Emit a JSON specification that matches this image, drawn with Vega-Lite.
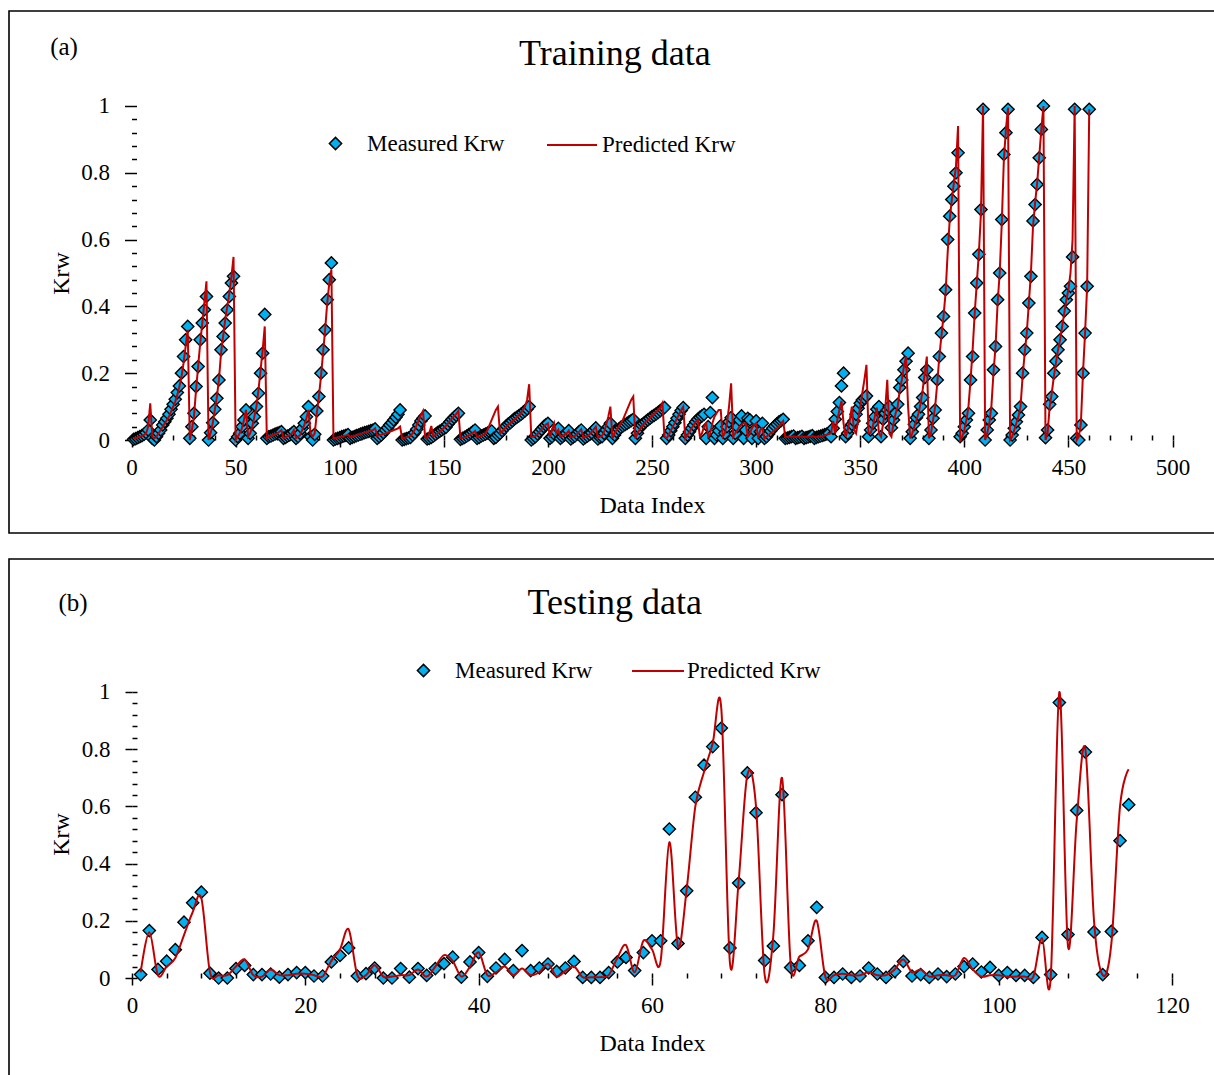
{
  "$schema": "https://vega.github.io/schema/vega-lite/v6.json",
  "padding": {"left": 8, "top": 10, "right": 0, "bottom": 0},
  "background": "white",
  "config": {
    "font": "Liberation Serif",
    "view": {"stroke": "black", "strokeWidth": 1.6},
    "axis": {"labelFont": "Liberation Serif", "titleFont": "Liberation Serif", "labelColor": "black", "titleColor": "black", "tickColor": "black", "grid": false},
    "legend": {"padding": 0, "labelFont": "Liberation Serif", "labelFontSize": 23, "labelColor": "black"}
  },
  "datasets": {
    "train": [
      {"i":1,"m":0.002,"p":0.005},{"i":2,"m":0.004,"p":0.006},{"i":3,"m":0.007,"p":0.008},{"i":4,"m":0.01,"p":0.01},{"i":5,"m":0.013,"p":0.012},
      {"i":6,"m":0.017,"p":0.015},{"i":7,"m":0.022,"p":0.02},{"i":8,"m":0.03,"p":0.04},{"i":9,"m":0.06,"p":0.11},{"i":10,"m":0.005,"p":0.01},
      {"i":11,"m":0.0,"p":0.005},{"i":12,"m":0.01,"p":0.01},{"i":13,"m":0.02,"p":0.02},{"i":14,"m":0.03,"p":0.03},{"i":15,"m":0.045,"p":0.04},
      {"i":16,"m":0.055,"p":0.05},{"i":17,"m":0.065,"p":0.06},{"i":18,"m":0.077,"p":0.07},{"i":19,"m":0.092,"p":0.085},{"i":20,"m":0.107,"p":0.1},
      {"i":21,"m":0.122,"p":0.115},{"i":22,"m":0.142,"p":0.135},{"i":23,"m":0.162,"p":0.16},{"i":24,"m":0.2,"p":0.19},{"i":25,"m":0.25,"p":0.23},
      {"i":26,"m":0.3,"p":0.28},{"i":27,"m":0.34,"p":0.33},{"i":28,"m":0.005,"p":0.0},{"i":29,"m":0.04,"p":0.03},{"i":30,"m":0.08,"p":0.07},
      {"i":31,"m":0.16,"p":0.15},{"i":32,"m":0.22,"p":0.22},{"i":33,"m":0.3,"p":0.29},{"i":34,"m":0.35,"p":0.35},{"i":35,"m":0.39,"p":0.41},
      {"i":36,"m":0.43,"p":0.475},{"i":37,"m":0.0,"p":0.0},{"i":38,"m":0.022,"p":0.02},{"i":39,"m":0.052,"p":0.05},{"i":40,"m":0.092,"p":0.09},
      {"i":41,"m":0.125,"p":0.13},{"i":42,"m":0.18,"p":0.18},{"i":43,"m":0.27,"p":0.26},{"i":44,"m":0.31,"p":0.31},{"i":45,"m":0.35,"p":0.36},
      {"i":46,"m":0.39,"p":0.4},{"i":47,"m":0.43,"p":0.44},{"i":48,"m":0.47,"p":0.49},{"i":49,"m":0.49,"p":0.548},{"i":50,"m":0.0,"p":0.0},
      {"i":51,"m":0.01,"p":0.01},{"i":52,"m":0.02,"p":0.02},{"i":53,"m":0.04,"p":0.035},{"i":54,"m":0.06,"p":0.06},{"i":55,"m":0.09,"p":0.09},
      {"i":56,"m":0.005,"p":0.01},{"i":57,"m":0.02,"p":0.02},{"i":58,"m":0.05,"p":0.04},{"i":59,"m":0.07,"p":0.07},{"i":60,"m":0.1,"p":0.1},
      {"i":61,"m":0.14,"p":0.15},{"i":62,"m":0.2,"p":0.21},{"i":63,"m":0.26,"p":0.27},{"i":64,"m":0.376,"p":0.34},{"i":65,"m":0.005,"p":0.005},
      {"i":66,"m":0.01,"p":0.01},{"i":67,"m":0.012,"p":0.012},{"i":68,"m":0.015,"p":0.015},{"i":69,"m":0.018,"p":0.018},{"i":70,"m":0.02,"p":0.02},
      {"i":71,"m":0.022,"p":0.025},{"i":72,"m":0.025,"p":0.03},{"i":73,"m":0.005,"p":0.005},{"i":74,"m":0.008,"p":0.008},{"i":75,"m":0.012,"p":0.012},
      {"i":76,"m":0.015,"p":0.015},{"i":77,"m":0.02,"p":0.02},{"i":78,"m":0.025,"p":0.03},{"i":79,"m":0.005,"p":0.005},{"i":80,"m":0.01,"p":0.01},
      {"i":81,"m":0.02,"p":0.015},{"i":82,"m":0.035,"p":0.03},{"i":83,"m":0.05,"p":0.045},{"i":84,"m":0.07,"p":0.065},{"i":85,"m":0.1,"p":0.09},
      {"i":86,"m":0.01,"p":0.02},{"i":87,"m":0.0,"p":0.01},{"i":88,"m":0.017,"p":0.02},{"i":89,"m":0.087,"p":0.08},{"i":90,"m":0.13,"p":0.13},
      {"i":91,"m":0.2,"p":0.19},{"i":92,"m":0.27,"p":0.26},{"i":93,"m":0.33,"p":0.33},{"i":94,"m":0.42,"p":0.41},{"i":95,"m":0.48,"p":0.47},
      {"i":96,"m":0.53,"p":0.51},{"i":97,"m":0.0,"p":0.005},{"i":98,"m":0.003,"p":0.006},{"i":99,"m":0.005,"p":0.007},{"i":100,"m":0.007,"p":0.008},
      {"i":101,"m":0.01,"p":0.01},{"i":102,"m":0.012,"p":0.012},{"i":103,"m":0.014,"p":0.014},{"i":104,"m":0.016,"p":0.016},{"i":105,"m":0.005,"p":0.008},
      {"i":106,"m":0.008,"p":0.01},{"i":107,"m":0.01,"p":0.012},{"i":108,"m":0.013,"p":0.014},{"i":109,"m":0.015,"p":0.016},{"i":110,"m":0.018,"p":0.018},
      {"i":111,"m":0.02,"p":0.02},{"i":112,"m":0.022,"p":0.022},{"i":113,"m":0.024,"p":0.024},{"i":114,"m":0.026,"p":0.026},{"i":115,"m":0.028,"p":0.028},
      {"i":116,"m":0.03,"p":0.03},{"i":117,"m":0.033,"p":0.035},{"i":118,"m":0.005,"p":0.012},{"i":119,"m":0.01,"p":0.014},{"i":120,"m":0.015,"p":0.016},
      {"i":121,"m":0.022,"p":0.018},{"i":122,"m":0.03,"p":0.02},{"i":123,"m":0.037,"p":0.022},{"i":124,"m":0.045,"p":0.025},{"i":125,"m":0.052,"p":0.027},
      {"i":126,"m":0.06,"p":0.03},{"i":127,"m":0.068,"p":0.032},{"i":128,"m":0.077,"p":0.035},{"i":129,"m":0.09,"p":0.04},{"i":130,"m":0.0,"p":0.005},
      {"i":131,"m":0.002,"p":0.006},{"i":132,"m":0.004,"p":0.008},{"i":133,"m":0.006,"p":0.01},{"i":134,"m":0.008,"p":0.012},{"i":135,"m":0.015,"p":0.02},
      {"i":136,"m":0.022,"p":0.03},{"i":137,"m":0.032,"p":0.045},{"i":138,"m":0.045,"p":0.06},{"i":139,"m":0.057,"p":0.075},{"i":140,"m":0.065,"p":0.087},
      {"i":141,"m":0.072,"p":0.01},{"i":142,"m":0.003,"p":0.005},{"i":143,"m":0.005,"p":0.02},{"i":144,"m":0.008,"p":0.042},{"i":145,"m":0.012,"p":0.01},
      {"i":146,"m":0.017,"p":0.015},{"i":147,"m":0.022,"p":0.02},{"i":148,"m":0.026,"p":0.025},{"i":149,"m":0.03,"p":0.03},{"i":150,"m":0.034,"p":0.036},
      {"i":151,"m":0.038,"p":0.042},{"i":152,"m":0.047,"p":0.05},{"i":153,"m":0.055,"p":0.058},{"i":154,"m":0.062,"p":0.065},{"i":155,"m":0.068,"p":0.072},
      {"i":156,"m":0.074,"p":0.078},{"i":157,"m":0.08,"p":0.087},{"i":158,"m":0.002,"p":0.005},{"i":159,"m":0.005,"p":0.006},{"i":160,"m":0.008,"p":0.008},
      {"i":161,"m":0.012,"p":0.01},{"i":162,"m":0.016,"p":0.014},{"i":163,"m":0.02,"p":0.018},{"i":164,"m":0.025,"p":0.022},{"i":165,"m":0.03,"p":0.027},
      {"i":166,"m":0.005,"p":0.008},{"i":167,"m":0.008,"p":0.01},{"i":168,"m":0.012,"p":0.012},{"i":169,"m":0.015,"p":0.015},{"i":170,"m":0.018,"p":0.02},
      {"i":171,"m":0.021,"p":0.03},{"i":172,"m":0.024,"p":0.045},{"i":173,"m":0.027,"p":0.06},{"i":174,"m":0.005,"p":0.075},{"i":175,"m":0.008,"p":0.09},
      {"i":176,"m":0.015,"p":0.1},{"i":177,"m":0.02,"p":0.02},{"i":178,"m":0.028,"p":0.025},{"i":179,"m":0.035,"p":0.032},{"i":180,"m":0.042,"p":0.04},
      {"i":181,"m":0.048,"p":0.046},{"i":182,"m":0.052,"p":0.05},{"i":183,"m":0.058,"p":0.056},{"i":184,"m":0.064,"p":0.062},{"i":185,"m":0.068,"p":0.068},
      {"i":186,"m":0.072,"p":0.075},{"i":187,"m":0.077,"p":0.08},{"i":188,"m":0.082,"p":0.09},{"i":189,"m":0.087,"p":0.1},{"i":190,"m":0.093,"p":0.12},
      {"i":191,"m":0.1,"p":0.167},{"i":192,"m":0.0,"p":0.01},{"i":193,"m":0.005,"p":0.01},{"i":194,"m":0.01,"p":0.012},{"i":195,"m":0.018,"p":0.018},
      {"i":196,"m":0.025,"p":0.025},{"i":197,"m":0.032,"p":0.032},{"i":198,"m":0.04,"p":0.04},{"i":199,"m":0.045,"p":0.046},{"i":200,"m":0.05,"p":0.05},
      {"i":201,"m":0.005,"p":0.007},{"i":202,"m":0.01,"p":0.03},{"i":203,"m":0.018,"p":0.05},{"i":204,"m":0.025,"p":0.02},{"i":205,"m":0.035,"p":0.03},
      {"i":206,"m":0.005,"p":0.01},{"i":207,"m":0.01,"p":0.012},{"i":208,"m":0.015,"p":0.015},{"i":209,"m":0.02,"p":0.02},{"i":210,"m":0.028,"p":0.028},
      {"i":211,"m":0.003,"p":0.008},{"i":212,"m":0.008,"p":0.01},{"i":213,"m":0.012,"p":0.012},{"i":214,"m":0.018,"p":0.018},{"i":215,"m":0.025,"p":0.025},
      {"i":216,"m":0.03,"p":0.032},{"i":217,"m":0.003,"p":0.006},{"i":218,"m":0.008,"p":0.01},{"i":219,"m":0.012,"p":0.012},{"i":220,"m":0.017,"p":0.017},
      {"i":221,"m":0.022,"p":0.024},{"i":222,"m":0.03,"p":0.032},{"i":223,"m":0.036,"p":0.04},{"i":224,"m":0.003,"p":0.006},{"i":225,"m":0.008,"p":0.01},
      {"i":226,"m":0.01,"p":0.012},{"i":227,"m":0.02,"p":0.025},{"i":228,"m":0.03,"p":0.045},{"i":229,"m":0.04,"p":0.07},{"i":230,"m":0.05,"p":0.1},
      {"i":231,"m":0.005,"p":0.005},{"i":232,"m":0.015,"p":0.02},{"i":233,"m":0.025,"p":0.03},{"i":234,"m":0.032,"p":0.04},{"i":235,"m":0.038,"p":0.05},
      {"i":236,"m":0.042,"p":0.06},{"i":237,"m":0.046,"p":0.075},{"i":238,"m":0.05,"p":0.09},{"i":239,"m":0.054,"p":0.105},{"i":240,"m":0.058,"p":0.12},
      {"i":241,"m":0.062,"p":0.13},{"i":242,"m":0.005,"p":0.005},{"i":243,"m":0.02,"p":0.02},{"i":244,"m":0.035,"p":0.03},{"i":245,"m":0.045,"p":0.04},
      {"i":246,"m":0.05,"p":0.048},{"i":247,"m":0.055,"p":0.055},{"i":248,"m":0.06,"p":0.06},{"i":249,"m":0.065,"p":0.066},{"i":250,"m":0.07,"p":0.072},
      {"i":251,"m":0.074,"p":0.078},{"i":252,"m":0.078,"p":0.084},{"i":253,"m":0.083,"p":0.09},{"i":254,"m":0.088,"p":0.097},{"i":255,"m":0.093,"p":0.11},
      {"i":256,"m":0.097,"p":0.01},{"i":257,"m":0.005,"p":0.005},{"i":258,"m":0.015,"p":0.015},{"i":259,"m":0.028,"p":0.028},{"i":260,"m":0.04,"p":0.04},
      {"i":261,"m":0.052,"p":0.052},{"i":262,"m":0.065,"p":0.065},{"i":263,"m":0.077,"p":0.077},{"i":264,"m":0.088,"p":0.09},{"i":265,"m":0.097,"p":0.1},
      {"i":266,"m":0.005,"p":0.005},{"i":267,"m":0.015,"p":0.015},{"i":268,"m":0.025,"p":0.025},{"i":269,"m":0.035,"p":0.035},{"i":270,"m":0.045,"p":0.045},
      {"i":271,"m":0.055,"p":0.055},{"i":272,"m":0.062,"p":0.06},{"i":273,"m":0.068,"p":0.01},{"i":274,"m":0.072,"p":0.02},{"i":275,"m":0.077,"p":0.04},
      {"i":276,"m":0.005,"p":0.05},{"i":277,"m":0.04,"p":0.01},{"i":278,"m":0.082,"p":0.02},{"i":279,"m":0.127,"p":0.05},{"i":280,"m":0.005,"p":0.07},
      {"i":281,"m":0.015,"p":0.08},{"i":282,"m":0.028,"p":0.09},{"i":283,"m":0.042,"p":0.09},{"i":284,"m":0.005,"p":0.01},{"i":285,"m":0.02,"p":0.02},
      {"i":286,"m":0.04,"p":0.05},{"i":287,"m":0.055,"p":0.1},{"i":288,"m":0.067,"p":0.17},{"i":289,"m":0.005,"p":0.01},{"i":290,"m":0.02,"p":0.02},
      {"i":291,"m":0.04,"p":0.03},{"i":292,"m":0.06,"p":0.04},{"i":293,"m":0.072,"p":0.045},{"i":294,"m":0.005,"p":0.05},{"i":295,"m":0.03,"p":0.05},
      {"i":296,"m":0.065,"p":0.01},{"i":297,"m":0.06,"p":0.02},{"i":298,"m":0.005,"p":0.035},{"i":299,"m":0.03,"p":0.045},{"i":300,"m":0.057,"p":0.05},
      {"i":301,"m":0.005,"p":0.005},{"i":302,"m":0.025,"p":0.03},{"i":303,"m":0.05,"p":0.035},{"i":304,"m":0.005,"p":0.005},{"i":305,"m":0.01,"p":0.01},
      {"i":306,"m":0.018,"p":0.015},{"i":307,"m":0.027,"p":0.02},{"i":308,"m":0.035,"p":0.025},{"i":309,"m":0.042,"p":0.03},{"i":310,"m":0.048,"p":0.035},
      {"i":311,"m":0.054,"p":0.04},{"i":312,"m":0.058,"p":0.05},{"i":313,"m":0.062,"p":0.057},{"i":314,"m":0.005,"p":0.01},{"i":315,"m":0.006,"p":0.01},
      {"i":316,"m":0.008,"p":0.01},{"i":317,"m":0.01,"p":0.01},{"i":318,"m":0.012,"p":0.011},{"i":319,"m":0.005,"p":0.01},{"i":320,"m":0.007,"p":0.01},
      {"i":321,"m":0.009,"p":0.01},{"i":322,"m":0.011,"p":0.011},{"i":323,"m":0.005,"p":0.01},{"i":324,"m":0.007,"p":0.01},{"i":325,"m":0.009,"p":0.01},
      {"i":326,"m":0.011,"p":0.011},{"i":327,"m":0.013,"p":0.012},{"i":328,"m":0.005,"p":0.01},{"i":329,"m":0.008,"p":0.01},{"i":330,"m":0.01,"p":0.01},
      {"i":331,"m":0.012,"p":0.011},{"i":332,"m":0.014,"p":0.012},{"i":333,"m":0.016,"p":0.014},{"i":334,"m":0.018,"p":0.016},{"i":335,"m":0.02,"p":0.018},
      {"i":336,"m":0.01,"p":0.02},{"i":337,"m":0.035,"p":0.057},{"i":338,"m":0.062,"p":0.02},{"i":339,"m":0.085,"p":0.06},{"i":340,"m":0.112,"p":0.09},
      {"i":341,"m":0.162,"p":0.117},{"i":342,"m":0.2,"p":0.05},{"i":343,"m":0.01,"p":0.01},{"i":344,"m":0.02,"p":0.03},{"i":345,"m":0.037,"p":0.06},
      {"i":346,"m":0.047,"p":0.1},{"i":347,"m":0.057,"p":0.03},{"i":348,"m":0.077,"p":0.02},{"i":349,"m":0.095,"p":0.06},{"i":350,"m":0.11,"p":0.1},
      {"i":351,"m":0.12,"p":0.14},{"i":352,"m":0.125,"p":0.18},{"i":353,"m":0.132,"p":0.225},{"i":354,"m":0.01,"p":0.02},{"i":355,"m":0.03,"p":0.02},
      {"i":356,"m":0.05,"p":0.04},{"i":357,"m":0.07,"p":0.07},{"i":358,"m":0.092,"p":0.097},{"i":359,"m":0.1,"p":0.02},{"i":360,"m":0.01,"p":0.01},
      {"i":361,"m":0.062,"p":0.05},{"i":362,"m":0.08,"p":0.09},{"i":363,"m":0.09,"p":0.18},{"i":364,"m":0.1,"p":0.02},{"i":365,"m":0.037,"p":0.01},
      {"i":366,"m":0.06,"p":0.05},{"i":367,"m":0.08,"p":0.08},{"i":368,"m":0.107,"p":0.1},{"i":369,"m":0.157,"p":0.15},{"i":370,"m":0.18,"p":0.18},
      {"i":371,"m":0.21,"p":0.22},{"i":372,"m":0.236,"p":0.25},{"i":373,"m":0.26,"p":0.1},{"i":374,"m":0.005,"p":0.005},{"i":375,"m":0.025,"p":0.02},
      {"i":376,"m":0.047,"p":0.04},{"i":377,"m":0.067,"p":0.06},{"i":378,"m":0.077,"p":0.08},{"i":379,"m":0.1,"p":0.11},{"i":380,"m":0.127,"p":0.15},
      {"i":381,"m":0.187,"p":0.2},{"i":382,"m":0.21,"p":0.25},{"i":383,"m":0.005,"p":0.005},{"i":384,"m":0.03,"p":0.02},{"i":385,"m":0.065,"p":0.06},
      {"i":386,"m":0.09,"p":0.1},{"i":387,"m":0.18,"p":0.17},{"i":388,"m":0.25,"p":0.25},{"i":389,"m":0.32,"p":0.31},{"i":390,"m":0.37,"p":0.37},
      {"i":391,"m":0.45,"p":0.44},{"i":392,"m":0.6,"p":0.56},{"i":393,"m":0.67,"p":0.66},{"i":394,"m":0.72,"p":0.72},{"i":395,"m":0.76,"p":0.77},
      {"i":396,"m":0.8,"p":0.82},{"i":397,"m":0.86,"p":0.94},{"i":398,"m":0.01,"p":0.0},{"i":399,"m":0.02,"p":0.01},{"i":400,"m":0.04,"p":0.03},
      {"i":401,"m":0.06,"p":0.06},{"i":402,"m":0.08,"p":0.1},{"i":403,"m":0.18,"p":0.18},{"i":404,"m":0.25,"p":0.27},{"i":405,"m":0.38,"p":0.38},
      {"i":406,"m":0.47,"p":0.47},{"i":407,"m":0.556,"p":0.56},{"i":408,"m":0.69,"p":0.68},{"i":409,"m":0.99,"p":1.0},{"i":410,"m":0.0,"p":0.0},
      {"i":411,"m":0.03,"p":0.02},{"i":412,"m":0.06,"p":0.05},{"i":413,"m":0.08,"p":0.1},{"i":414,"m":0.21,"p":0.2},{"i":415,"m":0.28,"p":0.28},
      {"i":416,"m":0.42,"p":0.41},{"i":417,"m":0.5,"p":0.5},{"i":418,"m":0.66,"p":0.65},{"i":419,"m":0.855,"p":0.84},{"i":420,"m":0.92,"p":0.93},
      {"i":421,"m":0.99,"p":0.995},{"i":422,"m":0.0,"p":0.0},{"i":423,"m":0.015,"p":0.01},{"i":424,"m":0.035,"p":0.03},{"i":425,"m":0.055,"p":0.05},
      {"i":426,"m":0.075,"p":0.07},{"i":427,"m":0.1,"p":0.1},{"i":428,"m":0.2,"p":0.19},{"i":429,"m":0.27,"p":0.26},{"i":430,"m":0.32,"p":0.32},
      {"i":431,"m":0.41,"p":0.41},{"i":432,"m":0.49,"p":0.5},{"i":433,"m":0.656,"p":0.64},{"i":434,"m":0.705,"p":0.71},{"i":435,"m":0.765,"p":0.77},
      {"i":436,"m":0.845,"p":0.85},{"i":437,"m":0.93,"p":0.93},{"i":438,"m":1.0,"p":1.0},{"i":439,"m":0.007,"p":0.0},{"i":440,"m":0.03,"p":0.02},
      {"i":441,"m":0.107,"p":0.1},{"i":442,"m":0.13,"p":0.14},{"i":443,"m":0.2,"p":0.19},{"i":444,"m":0.236,"p":0.23},{"i":445,"m":0.27,"p":0.27},
      {"i":446,"m":0.3,"p":0.3},{"i":447,"m":0.34,"p":0.34},{"i":448,"m":0.386,"p":0.38},{"i":449,"m":0.42,"p":0.42},{"i":450,"m":0.44,"p":0.45},
      {"i":451,"m":0.46,"p":0.5},{"i":452,"m":0.548,"p":0.6},{"i":453,"m":0.99,"p":1.0},{"i":454,"m":0.005,"p":0.0},{"i":455,"m":0.0,"p":0.01},
      {"i":456,"m":0.045,"p":0.05},{"i":457,"m":0.2,"p":0.2},{"i":458,"m":0.32,"p":0.32},{"i":459,"m":0.46,"p":0.46},{"i":460,"m":0.99,"p":0.99}
    ],
    "test": [
      {"i":1,"m":0.012,"p":0.02},{"i":2,"m":0.166,"p":0.16},{"i":3,"m":0.03,"p":0.01},{"i":4,"m":0.059,"p":0.04},{"i":5,"m":0.099,"p":0.07},
      {"i":6,"m":0.195,"p":0.15},{"i":7,"m":0.263,"p":0.23},{"i":8,"m":0.3,"p":0.28},{"i":9,"m":0.017,"p":0.02},{"i":10,"m":0.0,"p":0.01},
      {"i":11,"m":0.0,"p":0.01},{"i":12,"m":0.033,"p":0.04},{"i":13,"m":0.044,"p":0.065},{"i":14,"m":0.012,"p":0.01},{"i":15,"m":0.012,"p":0.005},
      {"i":16,"m":0.014,"p":0.03},{"i":17,"m":0.003,"p":0.01},{"i":18,"m":0.012,"p":0.01},{"i":19,"m":0.019,"p":0.015},{"i":20,"m":0.019,"p":0.015},
      {"i":21,"m":0.007,"p":0.01},{"i":22,"m":0.007,"p":0.005},{"i":23,"m":0.056,"p":0.06},{"i":24,"m":0.079,"p":0.1},{"i":25,"m":0.105,"p":0.17},
      {"i":26,"m":0.007,"p":0.01},{"i":27,"m":0.015,"p":0.01},{"i":28,"m":0.035,"p":0.045},{"i":29,"m":0.0,"p":0.005},{"i":30,"m":0.0,"p":0.005},
      {"i":31,"m":0.033,"p":0.01},{"i":32,"m":0.003,"p":0.01},{"i":33,"m":0.033,"p":0.03},{"i":34,"m":0.009,"p":0.005},{"i":35,"m":0.033,"p":0.04},
      {"i":36,"m":0.05,"p":0.08},{"i":37,"m":0.073,"p":0.06},{"i":38,"m":0.003,"p":0.005},{"i":39,"m":0.056,"p":0.04},{"i":40,"m":0.089,"p":0.09},
      {"i":41,"m":0.006,"p":0.01},{"i":42,"m":0.035,"p":0.02},{"i":43,"m":0.065,"p":0.04},{"i":44,"m":0.026,"p":0.01},{"i":45,"m":0.096,"p":0.033},
      {"i":46,"m":0.026,"p":0.01},{"i":47,"m":0.035,"p":0.02},{"i":48,"m":0.049,"p":0.05},{"i":49,"m":0.023,"p":0.005},{"i":50,"m":0.035,"p":0.025},
      {"i":51,"m":0.058,"p":0.04},{"i":52,"m":0.002,"p":0.003},{"i":53,"m":0.002,"p":0.003},{"i":54,"m":0.002,"p":0.003},{"i":55,"m":0.019,"p":0.01},
      {"i":56,"m":0.056,"p":0.07},{"i":57,"m":0.072,"p":0.115},{"i":58,"m":0.026,"p":0.02},{"i":59,"m":0.089,"p":0.13},{"i":60,"m":0.13,"p":0.1},
      {"i":61,"m":0.13,"p":0.06},{"i":62,"m":0.521,"p":0.475},{"i":63,"m":0.121,"p":0.11},{"i":64,"m":0.305,"p":0.31},{"i":65,"m":0.632,"p":0.6},
      {"i":66,"m":0.744,"p":0.72},{"i":67,"m":0.809,"p":0.82},{"i":68,"m":0.874,"p":0.94},{"i":69,"m":0.105,"p":0.05},{"i":70,"m":0.332,"p":0.34},
      {"i":71,"m":0.717,"p":0.71},{"i":72,"m":0.578,"p":0.6},{"i":73,"m":0.061,"p":0.01},{"i":74,"m":0.112,"p":0.15},{"i":75,"m":0.641,"p":0.7},
      {"i":76,"m":0.037,"p":0.05},{"i":77,"m":0.044,"p":0.075},{"i":78,"m":0.13,"p":0.1},{"i":79,"m":0.247,"p":0.2},{"i":80,"m":0.002,"p":0.005},
      {"i":81,"m":0.002,"p":0.01},{"i":82,"m":0.014,"p":0.015},{"i":83,"m":0.002,"p":0.01},{"i":84,"m":0.007,"p":0.01},{"i":85,"m":0.035,"p":0.02},
      {"i":86,"m":0.014,"p":0.01},{"i":87,"m":0.002,"p":0.01},{"i":88,"m":0.023,"p":0.03},{"i":89,"m":0.058,"p":0.065},{"i":90,"m":0.007,"p":0.02},
      {"i":91,"m":0.012,"p":0.03},{"i":92,"m":0.002,"p":0.005},{"i":93,"m":0.014,"p":0.01},{"i":94,"m":0.005,"p":0.01},{"i":95,"m":0.014,"p":0.01},
      {"i":96,"m":0.04,"p":0.07},{"i":97,"m":0.049,"p":0.03},{"i":98,"m":0.021,"p":0.005},{"i":99,"m":0.037,"p":0.01},{"i":100,"m":0.009,"p":0.01},
      {"i":101,"m":0.019,"p":0.005},{"i":102,"m":0.009,"p":0.005},{"i":103,"m":0.009,"p":0.005},{"i":104,"m":0.002,"p":0.005},{"i":105,"m":0.142,"p":0.14},
      {"i":106,"m":0.012,"p":0.0},{"i":107,"m":0.963,"p":1.0},{"i":108,"m":0.152,"p":0.11},{"i":109,"m":0.586,"p":0.55},{"i":110,"m":0.79,"p":0.8},
      {"i":111,"m":0.161,"p":0.2},{"i":112,"m":0.012,"p":0.01},{"i":113,"m":0.163,"p":0.12},{"i":114,"m":0.48,"p":0.6},{"i":115,"m":0.606,"p":0.73}
    ]
  },
  "resolve": {"scale": {"x": "independent", "y": "independent", "shape": "independent", "stroke": "independent"}, "legend": {"shape": "independent", "stroke": "independent"}},
  "spacing": 24,
  "vconcat": [
    {
      "width": 1210,
      "height": 522,
      "resolve": {"axis": {"x": "independent", "y": "independent"}},
      "layer": [
        {
          "data": {"name": "train"},
          "mark": {"type": "point", "shape": "diamond", "filled": true, "fill": "#00B0F0", "stroke": "black", "strokeWidth": 1.4, "size": 150, "opacity": 1},
          "encoding": {
            "x": {"field": "i", "type": "quantitative",
              "scale": {"domain": [-58.84, 522.33], "nice": false, "zero": false},
              "axis": {"orient": "bottom", "values": [0,50,100,150,200,250,300,350,400,450,500], "tickCount": 500,
                "format": "~g", "offset": -93, "domain": false, "tickWidth": 1.5, "tickSize": 7,
                "labelFontSize": 23, "labelPadding": 9, "labelFlush": false, "labelOverlap": false,
                "title": "Data Index", "titleFontSize": 24, "titleFontWeight": "normal", "titleX": 643, "titleY": 65, "titleBaseline": "middle", "titleAlign": "center"}},
            "y": {"field": "m", "type": "quantitative",
              "scale": {"domain": [-0.2784, 1.2844], "nice": false, "zero": false},
              "axis": {"orient": "left", "values": [0,0.2,0.4,0.6,0.8,1], "tickCount": 500,
                "format": "~g", "offset": -122.5, "domain": false, "tickWidth": 1.5, "tickSize": 7,
                "labelFontSize": 23, "labelPadding": 15, "labelFlush": false, "labelOverlap": false,
                "title": "Krw", "titleFontSize": 24, "titleFontWeight": "normal", "titleX": -70, "titleY": 262, "titleBaseline": "middle", "titleAlign": "center", "titleAngle": -90}},
            "shape": {"datum": "Measured Krw", "scale": {"range": ["diamond"]},
              "legend": {"orient": "none", "legendX": 315, "legendY": 121, "title": null, "symbolSize": 150, "labelOffset": 20, "labelFontSize": 23,
                "encode": {"symbols": {"update": {"fill": {"value": "#00B0F0"}, "stroke": {"value": "black"}, "strokeWidth": {"value": 1.4}, "size": {"value": 150}}}}}}
          }
        },
        {
          "data": {"name": "train"},
          "mark": {"type": "line", "strokeWidth": 2, "interpolate": "linear"},
          "encoding": {
            "x": {"field": "i", "type": "quantitative",
              "axis": {"orient": "bottom", "values": [0,10,20,30,40,50,60,70,80,90,100,110,120,130,140,150,160,170,180,190,200,210,220,230,240,250,260,270,280,290,300,310,320,330,340,350,360,370,380,390,400,410,420,430,440,450,460,470,480,490,500],
                "tickCount": 500, "labels": false, "title": null, "offset": -93, "domain": false, "tickWidth": 1.5, "tickSize": -5}},
            "y": {"field": "p", "type": "quantitative",
              "axis": {"orient": "left", "values": [0,0.04,0.08,0.12,0.16,0.2,0.24,0.28,0.32,0.36,0.4,0.44,0.48,0.52,0.56,0.6,0.64,0.68,0.72,0.76,0.8,0.84,0.88,0.92,0.96,1],
                "tickCount": 500, "labels": false, "title": null, "offset": -122.5, "domain": false, "tickWidth": 1.5, "tickSize": -5}},
            "stroke": {"datum": "Predicted Krw", "scale": {"range": ["#C00000"]},
              "legend": {"orient": "none", "legendX": 537, "legendY": 108, "title": null, "symbolType": "stroke", "symbolSize": 2500, "symbolStrokeWidth": 2, "labelOffset": 4, "labelFontSize": 23}}
          }
        },
        {
          "mark": {"type": "rule", "stroke": "black", "strokeWidth": 2},
          "encoding": {"x": {"datum": 0, "axis": null}, "x2": {"datum": 500}, "y": {"datum": 0, "axis": null}}
        },
        {
          "mark": {"type": "rule", "stroke": "black", "strokeWidth": 2},
          "encoding": {"x": {"datum": 0, "axis": null}, "y": {"datum": 0, "axis": null}, "y2": {"datum": 1}}
        },
        {
          "data": {"values": [{"label": "(a)", "x": -32.4, "y": 1.177}]},
          "mark": {"type": "text", "fontSize": 25, "font": "Liberation Serif", "fill": "black", "baseline": "middle", "align": "center"},
          "encoding": {"x": {"field": "x", "type": "quantitative", "axis": null}, "y": {"field": "y", "type": "quantitative", "axis": null}, "text": {"field": "label"}}
        },
        {
          "data": {"values": [{"label": "Training data", "x": 232.2, "y": 1.1228}]},
          "mark": {"type": "text", "fontSize": 36, "font": "Liberation Serif", "fill": "black", "baseline": "alphabetic", "align": "center"},
          "encoding": {"x": {"field": "x", "type": "quantitative", "axis": null}, "y": {"field": "y", "type": "quantitative", "axis": null}, "text": {"field": "label"}}
        }
      ]
    },
    {
      "width": 1210,
      "height": 525,
      "resolve": {"axis": {"x": "independent", "y": "independent"}},
      "layer": [
        {
          "data": {"name": "test"},
          "mark": {"type": "point", "shape": "diamond", "filled": true, "fill": "#00B0F0", "stroke": "black", "strokeWidth": 1.4, "size": 150, "opacity": 1},
          "encoding": {
            "x": {"field": "i", "type": "quantitative",
              "scale": {"domain": [-14.19, 125.42], "nice": false, "zero": false},
              "axis": {"orient": "bottom", "values": [0,20,40,60,80,100,120], "tickCount": 500,
                "format": "~g", "offset": -106, "domain": false, "tickWidth": 1.5, "tickSize": 7,
                "labelFontSize": 23, "labelPadding": 9, "labelFlush": false, "labelOverlap": false,
                "title": "Data Index", "titleFontSize": 24, "titleFontWeight": "normal", "titleX": 643, "titleY": 65, "titleBaseline": "middle", "titleAlign": "center"}},
            "y": {"field": "m", "type": "quantitative",
              "scale": {"domain": [-0.3706, 1.465], "nice": false, "zero": false},
              "axis": {"orient": "left", "values": [0,0.2,0.4,0.6,0.8,1], "tickCount": 500,
                "format": "~g", "offset": -123, "domain": false, "tickWidth": 1.5, "tickSize": 7,
                "labelFontSize": 23, "labelPadding": 15, "labelFlush": false, "labelOverlap": false,
                "title": "Krw", "titleFontSize": 24, "titleFontWeight": "normal", "titleX": -71, "titleY": 275, "titleBaseline": "middle", "titleAlign": "center", "titleAngle": -90}},
            "shape": {"datum": "Measured Krw", "scale": {"range": ["diamond"]},
              "legend": {"orient": "none", "legendX": 403, "legendY": 100, "title": null, "symbolSize": 150, "labelOffset": 20, "labelFontSize": 23,
                "encode": {"symbols": {"update": {"fill": {"value": "#00B0F0"}, "stroke": {"value": "black"}, "strokeWidth": {"value": 1.4}, "size": {"value": 150}}}}}}
          }
        },
        {
          "data": {"name": "test"},
          "mark": {"type": "line", "strokeWidth": 2, "interpolate": "cardinal", "tension": 0},
          "encoding": {
            "x": {"field": "i", "type": "quantitative",
              "axis": {"orient": "bottom", "values": [0,4,8,12,16,20,24,28,32,36,40,44,48,52,56,60,64,68,72,76,80,84,88,92,96,100,104,108,112,116,120],
                "tickCount": 500, "labels": false, "title": null, "offset": -106, "domain": false, "tickWidth": 1.5, "tickSize": -5}},
            "y": {"field": "p", "type": "quantitative",
              "axis": {"orient": "left", "values": [0,0.04,0.08,0.12,0.16,0.2,0.24,0.28,0.32,0.36,0.4,0.44,0.48,0.52,0.56,0.6,0.64,0.68,0.72,0.76,0.8,0.84,0.88,0.92,0.96,1],
                "tickCount": 500, "labels": false, "title": null, "offset": -123, "domain": false, "tickWidth": 1.5, "tickSize": -5}},
            "stroke": {"datum": "Predicted Krw", "scale": {"range": ["#C00000"]},
              "legend": {"orient": "none", "legendX": 622, "legendY": 85, "title": null, "symbolType": "stroke", "symbolSize": 2700, "symbolStrokeWidth": 2, "labelOffset": 2, "labelFontSize": 23}}
          }
        },
        {
          "mark": {"type": "rule", "stroke": "black", "strokeWidth": 2},
          "encoding": {"x": {"datum": 0, "axis": null}, "x2": {"datum": 120}, "y": {"datum": 0, "axis": null}}
        },
        {
          "mark": {"type": "rule", "stroke": "black", "strokeWidth": 2},
          "encoding": {"x": {"datum": 0, "axis": null}, "y": {"datum": 0, "axis": null}, "y2": {"datum": 1}}
        },
        {
          "data": {"values": [{"label": "(b)", "x": -6.8, "y": 1.311}]},
          "mark": {"type": "text", "fontSize": 25, "font": "Liberation Serif", "fill": "black", "baseline": "middle", "align": "center"},
          "encoding": {"x": {"field": "x", "type": "quantitative", "axis": null}, "y": {"field": "y", "type": "quantitative", "axis": null}, "text": {"field": "label"}}
        },
        {
          "data": {"values": [{"label": "Testing data", "x": 55.7, "y": 1.2727}]},
          "mark": {"type": "text", "fontSize": 36, "font": "Liberation Serif", "fill": "black", "baseline": "alphabetic", "align": "center"},
          "encoding": {"x": {"field": "x", "type": "quantitative", "axis": null}, "y": {"field": "y", "type": "quantitative", "axis": null}, "text": {"field": "label"}}
        }
      ]
    }
  ]
}
